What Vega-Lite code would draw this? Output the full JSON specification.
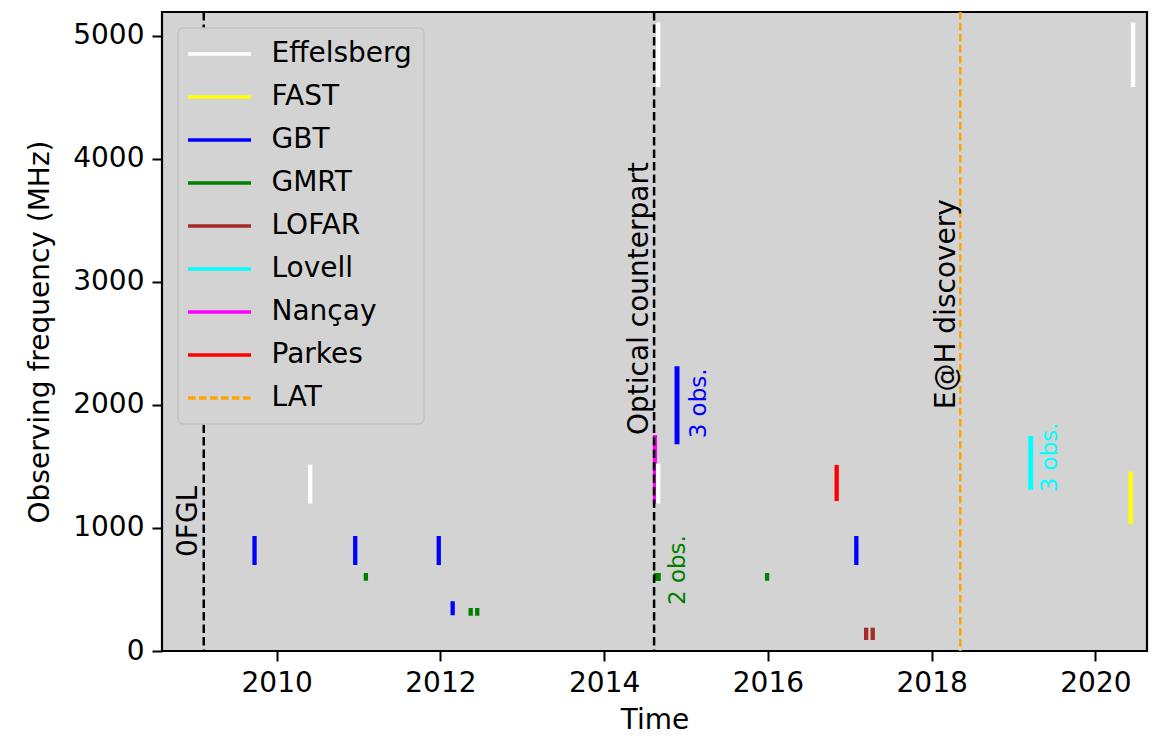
{
  "$schema": "https://vega.github.io/schema/vega-lite/v6.json",
  "width": 985,
  "height": 639,
  "autosize": {"type": "none"},
  "padding": {"left": 162, "top": 12, "right": 18, "bottom": 85},
  "background": "white",
  "config": {
    "font": "DejaVu Sans",
    "view": {"fill": "#d3d3d3", "stroke": "black", "strokeWidth": 2.2},
    "axis": {
      "domain": false,
      "grid": false,
      "tickColor": "black",
      "tickWidth": 2,
      "tickSize": 10,
      "labelFont": "DejaVu Sans",
      "labelFontSize": 28,
      "labelColor": "black",
      "labelPadding": 8,
      "titleFont": "DejaVu Sans",
      "titleFontSize": 28,
      "titleFontWeight": "normal",
      "titleColor": "black"
    },
    "legend": {
      "orient": "top-left",
      "offset": 16,
      "padding": 12,
      "fillColor": "#d3d3d3",
      "strokeColor": "#c4c4c4",
      "strokeWidth": 1.5,
      "cornerRadius": 5,
      "labelFont": "DejaVu Sans",
      "labelFontSize": 28,
      "labelColor": "black",
      "labelLimit": 400,
      "symbolType": "M-2.625,0H2.625",
      "symbolSize": 576,
      "symbolStrokeWidth": 3.5,
      "symbolOffset": 15.5,
      "labelOffset": 38,
      "rowPadding": 15
    }
  },
  "datasets": {
    "obs": [
      {"telescope": "Nançay", "time": 2014.62, "low": 1200, "high": 1756, "nobs": 1},
      {"telescope": "Effelsberg", "time": 2010.41, "low": 1200, "high": 1515, "nobs": 1},
      {"telescope": "Effelsberg", "time": 2014.66, "low": 1200, "high": 1525, "nobs": 1},
      {"telescope": "Effelsberg", "time": 2014.66, "low": 4585, "high": 5110, "nobs": 1},
      {"telescope": "Effelsberg", "time": 2020.46, "low": 4585, "high": 5110, "nobs": 1},
      {"telescope": "FAST", "time": 2020.43, "low": 1030, "high": 1460, "nobs": 1},
      {"telescope": "GBT", "time": 2009.73, "low": 700, "high": 935, "nobs": 1},
      {"telescope": "GBT", "time": 2010.96, "low": 700, "high": 935, "nobs": 1},
      {"telescope": "GBT", "time": 2011.98, "low": 700, "high": 935, "nobs": 1},
      {"telescope": "GBT", "time": 2012.15, "low": 290, "high": 405, "nobs": 1},
      {"telescope": "GBT", "time": 2014.89, "low": 1680, "high": 2315, "nobs": 3},
      {"telescope": "GBT", "time": 2017.08, "low": 700, "high": 935, "nobs": 1},
      {"telescope": "GMRT", "time": 2011.09, "low": 571, "high": 634, "nobs": 1},
      {"telescope": "GMRT", "time": 2012.37, "low": 287, "high": 350, "nobs": 1},
      {"telescope": "GMRT", "time": 2012.45, "low": 287, "high": 350, "nobs": 1},
      {"telescope": "GMRT", "time": 2014.635, "low": 570, "high": 634, "nobs": 1},
      {"telescope": "GMRT", "time": 2014.665, "low": 570, "high": 634, "nobs": 1},
      {"telescope": "GMRT", "time": 2015.99, "low": 571, "high": 634, "nobs": 1},
      {"telescope": "LOFAR", "time": 2017.2, "low": 90, "high": 190, "nobs": 1},
      {"telescope": "LOFAR", "time": 2017.28, "low": 90, "high": 190, "nobs": 1},
      {"telescope": "Lovell", "time": 2019.21, "low": 1310, "high": 1748, "nobs": 3},
      {"telescope": "Parkes", "time": 2016.84, "low": 1220, "high": 1512, "nobs": 1}
    ],
    "events": [
      {"event": "0FGL", "time": 2009.11},
      {"event": "Optical counterpart", "time": 2014.61}
    ],
    "lat": [
      {"telescope": "LAT", "event": "E@H discovery", "time": 2018.35}
    ],
    "bigLabels": [
      {"time": 2009.03, "freq": 764, "label": "0FGL"},
      {"time": 2014.53, "freq": 1756, "label": "Optical counterpart"},
      {"time": 2018.28, "freq": 1965, "label": "E@H discovery"}
    ],
    "obsLabels": [
      {"time": 2015.24, "freq": 1729, "label": "3 obs.", "telescope": "GBT"},
      {"time": 2014.985, "freq": 374, "label": "2 obs.", "telescope": "GMRT"},
      {"time": 2019.53, "freq": 1290, "label": "3 obs.", "telescope": "Lovell"}
    ]
  },
  "layer": [
    {
      "data": {"name": "obs"},
      "mark": {"type": "rule"},
      "encoding": {
        "x": {
          "field": "time", "type": "quantitative",
          "scale": {"domain": [2008.6, 2020.63], "nice": false, "zero": false},
          "axis": {"title": "Time", "values": [2010, 2012, 2014, 2016, 2018, 2020], "format": "d", "labelFlush": false, "labelOverlap": false, "titlePadding": 9}
        },
        "y": {
          "field": "low", "type": "quantitative",
          "scale": {"domain": [0, 5195], "nice": false, "zero": true},
          "axis": {"title": "Observing frequency (MHz)", "values": [0, 1000, 2000, 3000, 4000, 5000], "format": "d", "labelOverlap": false, "titlePadding": 18}
        },
        "y2": {"field": "high"},
        "color": {
          "field": "telescope", "type": "nominal",
          "scale": {
            "domain": ["Effelsberg", "FAST", "GBT", "GMRT", "LOFAR", "Lovell", "Nançay", "Parkes", "LAT"],
            "range": ["#ffffff", "#ffff00", "#0000ff", "#008000", "#a52a2a", "#00ffff", "#ff00ff", "#ff0000", "#ffa500"]
          },
          "legend": {"title": null}
        },
        "strokeDash": {
          "field": "telescope", "type": "nominal",
          "scale": {
            "domain": ["Effelsberg", "FAST", "GBT", "GMRT", "LOFAR", "Lovell", "Nançay", "Parkes", "LAT"],
            "range": [[1, 0], [1, 0], [1, 0], [1, 0], [1, 0], [1, 0], [1, 0], [1, 0], [7.5, 3.5]]
          },
          "legend": {"title": null}
        },
        "strokeWidth": {
          "field": "nobs", "type": "quantitative",
          "scale": {"domain": [1, 3], "range": [4.3, 5]},
          "legend": null
        }
      }
    },
    {
      "data": {"name": "lat"},
      "mark": {"type": "rule", "strokeWidth": 2.5},
      "encoding": {
        "x": {"field": "time", "type": "quantitative"},
        "color": {"field": "telescope", "type": "nominal", "legend": {"title": null}},
        "strokeDash": {"field": "telescope", "type": "nominal", "legend": {"title": null}}
      }
    },
    {
      "data": {"name": "events"},
      "mark": {"type": "rule", "color": "black", "strokeWidth": 2.5, "strokeDash": [8.5, 4]},
      "encoding": {
        "x": {"field": "time", "type": "quantitative"}
      }
    },
    {
      "data": {"name": "bigLabels"},
      "mark": {"type": "text", "angle": 270, "align": "left", "baseline": "alphabetic", "fontSize": 28, "font": "DejaVu Sans", "color": "black"},
      "encoding": {
        "x": {"field": "time", "type": "quantitative"},
        "y": {"field": "freq", "type": "quantitative"},
        "text": {"field": "label"}
      }
    },
    {
      "data": {"name": "obsLabels"},
      "mark": {"type": "text", "angle": 270, "align": "left", "baseline": "alphabetic", "fontSize": 23, "font": "DejaVu Sans"},
      "encoding": {
        "x": {"field": "time", "type": "quantitative"},
        "y": {"field": "freq", "type": "quantitative"},
        "text": {"field": "label"},
        "color": {"field": "telescope", "type": "nominal", "legend": null}
      }
    }
  ]
}
